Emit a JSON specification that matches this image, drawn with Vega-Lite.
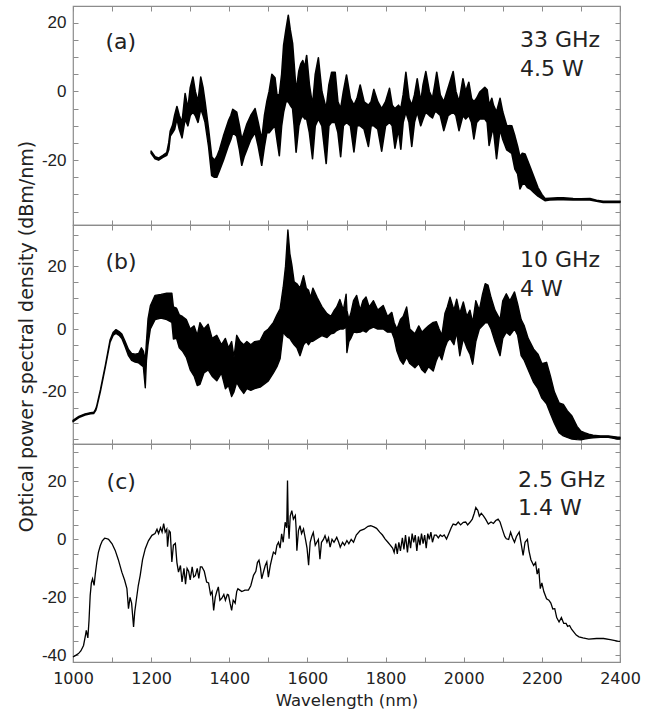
{
 "$schema": "https://vega.github.io/schema/vega-lite/v6.json",
 "padding": {"left": 16, "top": 4, "right": 5, "bottom": 5},
 "background": "white",
 "spacing": 0,
 "bounds": "flush",
 "config": {
  "view": {"stroke": "#8c8c8c", "strokeWidth": 1.2},
  "axis": {"grid": false, "domain": false, "tickColor": "#8c8c8c", "tickSize": 5, "tickWidth": 1, "offset": -5, "labelFlush": false, "labelColor": "#222", "titleColor": "#222"}
 },
 "datasets": {
  "a": [
   {"wl":1200,"lo":-18.0,"hi":-17.4},{"wl":1210,"lo":-19.6,"hi":-19.0},{"wl":1219,"lo":-20.0,"hi":-19.4},{"wl":1230,"lo":-19.2,"hi":-18.6},{"wl":1240,"lo":-18.6,"hi":-17.8},{"wl":1245,"lo":-17,"hi":-15},{"wl":1249,"lo":-13,"hi":-11.5},{"wl":1255,"lo":-12,"hi":-9.8},{"wl":1260,"lo":-11,"hi":-7},{"wl":1266,"lo":-8,"hi":-4.4},{"wl":1272,"lo":-11,"hi":-7},{"wl":1279,"lo":-13.5,"hi":-9},{"wl":1287,"lo":-8,"hi":-0.6},{"wl":1294,"lo":-10,"hi":-5},{"wl":1300,"lo":-7,"hi":1},{"wl":1307,"lo":-6,"hi":4.2},{"wl":1313,"lo":-7,"hi":0},{"wl":1320,"lo":-9,"hi":-3},{"wl":1327,"lo":-5,"hi":4.2},{"wl":1333,"lo":-7,"hi":1},{"wl":1338,"lo":-9,"hi":-3},{"wl":1347,"lo":-16,"hi":-11},{"wl":1355,"lo":-24.5,"hi":-19},{"wl":1362,"lo":-25,"hi":-20},{"wl":1368,"lo":-25,"hi":-19},{"wl":1375,"lo":-23,"hi":-17},{"wl":1385,"lo":-20,"hi":-13},{"wl":1398,"lo":-15.7,"hi":-8.5},{"wl":1404,"lo":-14,"hi":-7},{"wl":1409,"lo":-12,"hi":-5.2},{"wl":1419,"lo":-13,"hi":-6},{"wl":1426,"lo":-17,"hi":-10},{"wl":1432,"lo":-21.5,"hi":-14},{"wl":1438,"lo":-19,"hi":-12},{"wl":1445,"lo":-17,"hi":-9.5},{"wl":1455,"lo":-14,"hi":-7},{"wl":1466,"lo":-12,"hi":-5},{"wl":1474,"lo":-16,"hi":-9},{"wl":1483,"lo":-21.5,"hi":-14},{"wl":1490,"lo":-16,"hi":-7},{"wl":1496,"lo":-12,"hi":-3},{"wl":1502,"lo":-12,"hi":0},{"wl":1509,"lo":-11,"hi":5},{"wl":1517,"lo":-10,"hi":4},{"wl":1522,"lo":-14,"hi":-1},{"wl":1528,"lo":-18.7,"hi":-1},{"wl":1534,"lo":-10,"hi":5},{"wl":1539,"lo":-6,"hi":13.4},{"wl":1545,"lo":-3,"hi":18},{"wl":1551,"lo":-3,"hi":22.2},{"wl":1556,"lo":-4,"hi":18},{"wl":1562,"lo":-5,"hi":14},{"wl":1566,"lo":-10,"hi":8},{"wl":1571,"lo":-17.7,"hi":0},{"wl":1578,"lo":-10,"hi":6},{"wl":1583,"lo":-8,"hi":8},{"wl":1588,"lo":-7,"hi":9},{"wl":1593,"lo":-8,"hi":7},{"wl":1598,"lo":-8,"hi":10.5},{"wl":1605,"lo":-12,"hi":2},{"wl":1613,"lo":-19.6,"hi":-4},{"wl":1620,"lo":-10,"hi":5},{"wl":1628,"lo":-8,"hi":9.8},{"wl":1637,"lo":-10,"hi":0},{"wl":1648,"lo":-21,"hi":-5},{"wl":1655,"lo":-10,"hi":2},{"wl":1662,"lo":-9,"hi":5.6},{"wl":1671,"lo":-9,"hi":5.6},{"wl":1678,"lo":-12,"hi":-3},{"wl":1685,"lo":-19,"hi":-5},{"wl":1692,"lo":-10,"hi":0},{"wl":1700,"lo":-9,"hi":4.8},{"wl":1710,"lo":-10,"hi":-2},{"wl":1719,"lo":-17.6,"hi":-4},{"wl":1727,"lo":-10,"hi":-2},{"wl":1735,"lo":-10,"hi":1.9},{"wl":1745,"lo":-11,"hi":-3},{"wl":1756,"lo":-16,"hi":-4},{"wl":1763,"lo":-10,"hi":-3},{"wl":1770,"lo":-10,"hi":0.6},{"wl":1780,"lo":-11,"hi":-3},{"wl":1790,"lo":-17.4,"hi":-5},{"wl":1800,"lo":-10,"hi":-3},{"wl":1810,"lo":-9,"hi":0.9},{"wl":1817,"lo":-10,"hi":-4},{"wl":1824,"lo":-16.5,"hi":-5},{"wl":1833,"lo":-11,"hi":-4},{"wl":1839,"lo":-16.8,"hi":-5},{"wl":1845,"lo":-9,"hi":-1},{"wl":1852,"lo":-6,"hi":5.6},{"wl":1860,"lo":-9,"hi":-2},{"wl":1867,"lo":-16,"hi":-4},{"wl":1874,"lo":-9,"hi":-1},{"wl":1881,"lo":-6,"hi":3.7},{"wl":1890,"lo":-10,"hi":-3},{"wl":1896,"lo":-8,"hi":2},{"wl":1903,"lo":-6,"hi":5.8},{"wl":1912,"lo":-7,"hi":0},{"wl":1920,"lo":-7.7,"hi":-2},{"wl":1926,"lo":-6,"hi":2},{"wl":1931,"lo":-6,"hi":5.6},{"wl":1940,"lo":-7,"hi":-1},{"wl":1949,"lo":-11.4,"hi":-3},{"wl":1960,"lo":-7,"hi":1},{"wl":1973,"lo":-6,"hi":5.8},{"wl":1980,"lo":-7,"hi":0},{"wl":1988,"lo":-11.4,"hi":-3},{"wl":1998,"lo":-7,"hi":3.7},{"wl":2005,"lo":-8,"hi":0},{"wl":2013,"lo":-7,"hi":2.7},{"wl":2020,"lo":-9,"hi":-2},{"wl":2026,"lo":-13.8,"hi":-3},{"wl":2033,"lo":-9,"hi":-2},{"wl":2041,"lo":-8,"hi":-0.2},{"wl":2054,"lo":-8,"hi":1.2},{"wl":2060,"lo":-9,"hi":0.5},{"wl":2065,"lo":-15.7,"hi":-4},{"wl":2072,"lo":-12,"hi":-2},{"wl":2076,"lo":-11,"hi":-4},{"wl":2084,"lo":-19.6,"hi":-6},{"wl":2093,"lo":-11,"hi":-2},{"wl":2100,"lo":-14,"hi":-6},{"wl":2110,"lo":-17,"hi":-9.9},{"wl":2123,"lo":-18,"hi":-10},{"wl":2131,"lo":-22.6,"hi":-13},{"wl":2138,"lo":-24,"hi":-16},{"wl":2144,"lo":-28.4,"hi":-19},{"wl":2150,"lo":-27,"hi":-18},{"wl":2157,"lo":-27,"hi":-18.2},{"wl":2163,"lo":-28,"hi":-20},{"wl":2170,"lo":-28.4,"hi":-22},{"wl":2180,"lo":-29.5,"hi":-25},{"wl":2190,"lo":-30.5,"hi":-28},{"wl":2200,"lo":-31.2,"hi":-30},{"wl":2208,"lo":-31.8,"hi":-31.2},{"wl":2220,"lo":-31.6,"hi":-31.1},{"wl":2240,"lo":-31.5,"hi":-31.0},{"wl":2255,"lo":-31.5,"hi":-31.0},{"wl":2280,"lo":-31.6,"hi":-31.2},{"wl":2300,"lo":-31.6,"hi":-31.3},{"wl":2323,"lo":-31.6,"hi":-31.2},{"wl":2340,"lo":-32.0,"hi":-31.7},{"wl":2357,"lo":-32.3,"hi":-32.0},{"wl":2400,"lo":-32.3,"hi":-32.0}
  ],
  "b": [
   {"wl":1000,"lo":-29.5,"hi":-29.1},{"wl":1015,"lo":-28.2,"hi":-27.8},{"wl":1031,"lo":-27.4,"hi":-27.0},{"wl":1045,"lo":-27.0,"hi":-26.6},{"wl":1053,"lo":-26.9,"hi":-26.5},{"wl":1058,"lo":-26,"hi":-25.5},{"wl":1061,"lo":-24.8,"hi":-24.3},{"wl":1070,"lo":-20,"hi":-19.4},{"wl":1083,"lo":-12,"hi":-11.4},{"wl":1095,"lo":-4.2,"hi":-3.4},{"wl":1103,"lo":-2,"hi":-1.0},{"wl":1110,"lo":-1.4,"hi":-0.2},{"wl":1118,"lo":-2,"hi":-0.8},{"wl":1125,"lo":-3,"hi":-1.6},{"wl":1133,"lo":-5.5,"hi":-3.8},{"wl":1142,"lo":-8.5,"hi":-6.5},{"wl":1150,"lo":-10,"hi":-7.8},{"wl":1159,"lo":-10.5,"hi":-8},{"wl":1168,"lo":-10.8,"hi":-7.8},{"wl":1175,"lo":-11.5,"hi":-6},{"wl":1180,"lo":-12,"hi":-7},{"wl":1185,"lo":-18.7,"hi":-10},{"wl":1188,"lo":-10,"hi":-4},{"wl":1192,"lo":-5,"hi":3.2},{"wl":1198,"lo":0,"hi":7.4},{"wl":1210,"lo":3,"hi":10.7},{"wl":1225,"lo":3.5,"hi":11},{"wl":1240,"lo":3,"hi":11.4},{"wl":1253,"lo":2.1,"hi":11.4},{"wl":1257,"lo":-3.2,"hi":7},{"wl":1265,"lo":-3,"hi":6.6},{"wl":1272,"lo":-6,"hi":4.5},{"wl":1280,"lo":-7,"hi":4},{"wl":1290,"lo":-9,"hi":3},{"wl":1300,"lo":-13,"hi":0},{"wl":1310,"lo":-15,"hi":1},{"wl":1318,"lo":-18,"hi":-2},{"wl":1325,"lo":-17.6,"hi":2},{"wl":1335,"lo":-14,"hi":0},{"wl":1346,"lo":-13,"hi":1.5},{"wl":1356,"lo":-15,"hi":-3},{"wl":1368,"lo":-16.5,"hi":-2},{"wl":1380,"lo":-14,"hi":-5},{"wl":1390,"lo":-19,"hi":-3},{"wl":1398,"lo":-18,"hi":-6},{"wl":1406,"lo":-21.5,"hi":-4},{"wl":1412,"lo":-20,"hi":-9},{"wl":1419,"lo":-17,"hi":-2},{"wl":1428,"lo":-19,"hi":-4},{"wl":1437,"lo":-20.5,"hi":-5},{"wl":1445,"lo":-19,"hi":-4},{"wl":1455,"lo":-19.5,"hi":-5},{"wl":1465,"lo":-19,"hi":-4},{"wl":1479,"lo":-18.5,"hi":-3.7},{"wl":1490,"lo":-17.5,"hi":-1},{"wl":1500,"lo":-16.5,"hi":0},{"wl":1513,"lo":-14,"hi":2.1},{"wl":1522,"lo":-12,"hi":4.5},{"wl":1530,"lo":-9.5,"hi":6.4},{"wl":1538,"lo":-1,"hi":13.3},{"wl":1544,"lo":-2,"hi":20},{"wl":1550,"lo":-2.7,"hi":31.5},{"wl":1555,"lo":-3,"hi":24},{"wl":1560,"lo":-4,"hi":20.5},{"wl":1566,"lo":-5,"hi":15},{"wl":1573,"lo":-6,"hi":14.4},{"wl":1581,"lo":-8.5,"hi":13},{"wl":1590,"lo":-5,"hi":17},{"wl":1597,"lo":-4,"hi":13},{"wl":1603,"lo":-5,"hi":12.3},{"wl":1608,"lo":-4,"hi":10},{"wl":1614,"lo":-3.9,"hi":13},{"wl":1625,"lo":-3,"hi":10},{"wl":1637,"lo":-2.1,"hi":7.1},{"wl":1650,"lo":-2.7,"hi":4.9},{"wl":1660,"lo":-1.5,"hi":4},{"wl":1668,"lo":-1.3,"hi":5.8},{"wl":1675,"lo":-0.5,"hi":7},{"wl":1683,"lo":0,"hi":9.4},{"wl":1692,"lo":0,"hi":6},{"wl":1699,"lo":0.6,"hi":11.1},{"wl":1701,"lo":-7.5,"hi":6},{"wl":1706,"lo":-4,"hi":3},{"wl":1711,"lo":-3,"hi":5},{"wl":1718,"lo":-1,"hi":9},{"wl":1726,"lo":-1.1,"hi":10.7},{"wl":1735,"lo":-1,"hi":6},{"wl":1742,"lo":-0.5,"hi":9},{"wl":1750,"lo":-1,"hi":10.2},{"wl":1758,"lo":0,"hi":7},{"wl":1769,"lo":0.6,"hi":9},{"wl":1780,"lo":0,"hi":6},{"wl":1794,"lo":0,"hi":7.5},{"wl":1805,"lo":-1,"hi":4},{"wl":1816,"lo":-1,"hi":5.3},{"wl":1822,"lo":-3,"hi":2},{"wl":1829,"lo":-7,"hi":0},{"wl":1838,"lo":-10,"hi":3},{"wl":1845,"lo":-11.2,"hi":4},{"wl":1854,"lo":-9,"hi":7},{"wl":1862,"lo":-11,"hi":0},{"wl":1875,"lo":-12.3,"hi":-1.5},{"wl":1885,"lo":-11,"hi":1},{"wl":1893,"lo":-13,"hi":-1},{"wl":1901,"lo":-13.9,"hi":0},{"wl":1910,"lo":-12,"hi":1},{"wl":1922,"lo":-13.4,"hi":2.1},{"wl":1930,"lo":-10,"hi":2.3},{"wl":1937,"lo":-8,"hi":0},{"wl":1944,"lo":-9.8,"hi":-2},{"wl":1952,"lo":-6,"hi":5},{"wl":1958,"lo":-4,"hi":7},{"wl":1965,"lo":-3,"hi":10.1},{"wl":1975,"lo":-5,"hi":6},{"wl":1982,"lo":-1,"hi":9.5},{"wl":1990,"lo":-8.5,"hi":5},{"wl":1999,"lo":-3,"hi":8.6},{"wl":2008,"lo":-6,"hi":4},{"wl":2016,"lo":-8,"hi":6},{"wl":2023,"lo":-11.2,"hi":2},{"wl":2031,"lo":-4,"hi":9},{"wl":2040,"lo":0,"hi":6},{"wl":2048,"lo":1,"hi":11},{"wl":2055,"lo":2,"hi":14.4},{"wl":2062,"lo":2,"hi":14},{"wl":2070,"lo":0,"hi":10},{"wl":2080,"lo":-4,"hi":6},{"wl":2093,"lo":-8.5,"hi":3},{"wl":2100,"lo":-3,"hi":9},{"wl":2109,"lo":-1,"hi":11.2},{"wl":2118,"lo":-2,"hi":9},{"wl":2130,"lo":0,"hi":11.8},{"wl":2138,"lo":-2,"hi":8},{"wl":2147,"lo":-8.5,"hi":3},{"wl":2155,"lo":-10,"hi":1},{"wl":2165,"lo":-13,"hi":-3},{"wl":2179,"lo":-17,"hi":-6.4},{"wl":2190,"lo":-19,"hi":-8},{"wl":2200,"lo":-22,"hi":-11},{"wl":2212,"lo":-23.8,"hi":-10.6},{"wl":2222,"lo":-27,"hi":-15},{"wl":2232,"lo":-30,"hi":-20},{"wl":2244,"lo":-33,"hi":-23.5},{"wl":2255,"lo":-34,"hi":-24},{"wl":2265,"lo":-34.5,"hi":-26},{"wl":2277,"lo":-35,"hi":-27.7},{"wl":2290,"lo":-35.2,"hi":-31},{"wl":2300,"lo":-35.3,"hi":-32.5},{"wl":2309,"lo":-35,"hi":-33},{"wl":2320,"lo":-34.8,"hi":-33.5},{"wl":2331,"lo":-34.6,"hi":-33.8},{"wl":2350,"lo":-34.5,"hi":-34},{"wl":2370,"lo":-34.5,"hi":-34},{"wl":2394,"lo":-35,"hi":-34.4},{"wl":2400,"lo":-35,"hi":-34.4}
  ],
  "c": [
   {"wl":1000,"v":-40.6},{"wl":1007,"v":-40.0},{"wl":1014,"v":-39.4},{"wl":1020,"v":-38.5},{"wl":1027,"v":-36.6},{"wl":1032,"v":-33},{"wl":1034,"v":-31.4},{"wl":1038,"v":-34},{"wl":1041,"v":-28},{"wl":1044,"v":-19.3},{"wl":1047,"v":-15},{"wl":1050,"v":-13.6},{"wl":1054,"v":-15.9},{"wl":1057,"v":-12},{"wl":1061,"v":-7.8},{"wl":1065,"v":-4.5},{"wl":1070,"v":-2.1},{"wl":1075,"v":-0.5},{"wl":1081,"v":0.4},{"wl":1086,"v":0.3},{"wl":1091,"v":0},{"wl":1100,"v":-1.5},{"wl":1108,"v":-3.8},{"wl":1116,"v":-7},{"wl":1125,"v":-11.3},{"wl":1132,"v":-14},{"wl":1138,"v":-17},{"wl":1142,"v":-23.9},{"wl":1146,"v":-20},{"wl":1150,"v":-22},{"wl":1155,"v":-30.2},{"wl":1158,"v":-25},{"wl":1162,"v":-21},{"wl":1167,"v":-16},{"wl":1172,"v":-12.4},{"wl":1178,"v":-7},{"wl":1185,"v":-3.2},{"wl":1193,"v":-0.5},{"wl":1202,"v":1.4},{"wl":1210,"v":2},{"wl":1215,"v":3.5},{"wl":1219,"v":2},{"wl":1224,"v":4},{"wl":1228,"v":2.5},{"wl":1232,"v":5.4},{"wl":1236,"v":2.5},{"wl":1240,"v":3.5},{"wl":1242,"v":-2.5},{"wl":1246,"v":3},{"wl":1249,"v":2.5},{"wl":1253,"v":-7.8},{"wl":1257,"v":-2},{"wl":1262,"v":-1.4},{"wl":1266,"v":-8},{"wl":1270,"v":-11.3},{"wl":1275,"v":-9},{"wl":1279,"v":-14.7},{"wl":1284,"v":-10},{"wl":1288,"v":-15.5},{"wl":1292,"v":-10},{"wl":1296,"v":-11},{"wl":1300,"v":-14},{"wl":1305,"v":-9.5},{"wl":1309,"v":-13},{"wl":1313,"v":-12.5},{"wl":1318,"v":-10},{"wl":1322,"v":-13.5},{"wl":1326,"v":-9.5},{"wl":1330,"v":-9.5},{"wl":1336,"v":-11},{"wl":1342,"v":-14.7},{"wl":1347,"v":-15},{"wl":1352,"v":-19},{"wl":1356,"v":-18},{"wl":1360,"v":-24.5},{"wl":1364,"v":-20},{"wl":1368,"v":-18},{"wl":1372,"v":-16.4},{"wl":1376,"v":-21},{"wl":1381,"v":-20.3},{"wl":1386,"v":-19},{"wl":1390,"v":-21},{"wl":1395,"v":-19},{"wl":1398,"v":-19.2},{"wl":1402,"v":-22},{"wl":1406,"v":-24.5},{"wl":1410,"v":-21},{"wl":1415,"v":-22},{"wl":1419,"v":-18},{"wl":1422,"v":-17},{"wl":1427,"v":-17.5},{"wl":1432,"v":-18},{"wl":1440,"v":-17.5},{"wl":1449,"v":-17.5},{"wl":1455,"v":-16},{"wl":1462,"v":-12.4},{"wl":1468,"v":-11},{"wl":1472,"v":-8},{"wl":1476,"v":-7.2},{"wl":1480,"v":-10},{"wl":1483,"v":-13.6},{"wl":1488,"v":-11},{"wl":1492,"v":-9},{"wl":1496,"v":-7.8},{"wl":1500,"v":-13},{"wl":1505,"v":-9},{"wl":1510,"v":-6},{"wl":1513,"v":-4.4},{"wl":1518,"v":-5},{"wl":1522,"v":-2},{"wl":1526,"v":-1},{"wl":1530,"v":-3},{"wl":1534,"v":1.9},{"wl":1538,"v":-1},{"wl":1543,"v":5.9},{"wl":1547,"v":4},{"wl":1549,"v":20.3},{"wl":1551,"v":5},{"wl":1553,"v":0.2},{"wl":1556,"v":8},{"wl":1560,"v":9.9},{"wl":1564,"v":7},{"wl":1569,"v":8.2},{"wl":1571,"v":4},{"wl":1573,"v":-3.9},{"wl":1577,"v":3},{"wl":1581,"v":4.7},{"wl":1585,"v":2},{"wl":1590,"v":3.6},{"wl":1595,"v":0},{"wl":1599,"v":-3},{"wl":1603,"v":-8.9},{"wl":1607,"v":-1},{"wl":1611,"v":1},{"wl":1615,"v":2.4},{"wl":1620,"v":-2},{"wl":1624,"v":-1},{"wl":1628,"v":0},{"wl":1632,"v":-6.8},{"wl":1636,"v":-1},{"wl":1641,"v":0},{"wl":1645,"v":1.3},{"wl":1650,"v":-1},{"wl":1654,"v":0.5},{"wl":1658,"v":-2.7},{"wl":1663,"v":0},{"wl":1668,"v":-1},{"wl":1675,"v":0.7},{"wl":1680,"v":-1},{"wl":1684,"v":-2.7},{"wl":1690,"v":-1},{"wl":1695,"v":-2},{"wl":1701,"v":-0.4},{"wl":1706,"v":-1.5},{"wl":1712,"v":0},{"wl":1718,"v":-1},{"wl":1725,"v":1.5},{"wl":1735,"v":3},{"wl":1745,"v":3.5},{"wl":1755,"v":4.5},{"wl":1762,"v":4.7},{"wl":1770,"v":4.3},{"wl":1777,"v":3.8},{"wl":1785,"v":2.5},{"wl":1792,"v":1.5},{"wl":1799,"v":0.1},{"wl":1806,"v":-1},{"wl":1812,"v":-2},{"wl":1818,"v":-3},{"wl":1822,"v":-4.5},{"wl":1826,"v":-1.5},{"wl":1830,"v":-5},{"wl":1834,"v":-1},{"wl":1838,"v":-4},{"wl":1843,"v":0.5},{"wl":1847,"v":-3.5},{"wl":1851,"v":1.5},{"wl":1856,"v":-4.5},{"wl":1860,"v":1},{"wl":1864,"v":-3},{"wl":1868,"v":2},{"wl":1872,"v":-1},{"wl":1876,"v":1.5},{"wl":1880,"v":-4},{"wl":1884,"v":1},{"wl":1888,"v":-2},{"wl":1892,"v":2},{"wl":1896,"v":-1.5},{"wl":1900,"v":1.5},{"wl":1904,"v":-3},{"wl":1908,"v":2},{"wl":1912,"v":0},{"wl":1916,"v":2.5},{"wl":1920,"v":-1},{"wl":1925,"v":1.5},{"wl":1930,"v":1.5},{"wl":1935,"v":0.5},{"wl":1940,"v":1.5},{"wl":1945,"v":1},{"wl":1950,"v":1.5},{"wl":1956,"v":0.1},{"wl":1962,"v":2},{"wl":1968,"v":4},{"wl":1973,"v":5.3},{"wl":1980,"v":5},{"wl":1986,"v":6},{"wl":1992,"v":5},{"wl":1999,"v":5.9},{"wl":2005,"v":6},{"wl":2010,"v":5},{"wl":2016,"v":5.9},{"wl":2022,"v":7},{"wl":2027,"v":9},{"wl":2031,"v":11},{"wl":2036,"v":10},{"wl":2040,"v":8},{"wl":2045,"v":9},{"wl":2050,"v":8.2},{"wl":2056,"v":7},{"wl":2063,"v":5.3},{"wl":2070,"v":6},{"wl":2076,"v":5.5},{"wl":2082,"v":6.5},{"wl":2088,"v":7},{"wl":2093,"v":6},{"wl":2100,"v":3},{"wl":2105,"v":1},{"wl":2109,"v":0.2},{"wl":2115,"v":0},{"wl":2120,"v":2.5},{"wl":2125,"v":0.5},{"wl":2130,"v":-1},{"wl":2135,"v":1},{"wl":2142,"v":2.5},{"wl":2147,"v":-1.5},{"wl":2152,"v":-5.5},{"wl":2157,"v":-1},{"wl":2163,"v":0},{"wl":2167,"v":-4},{"wl":2172,"v":-7},{"wl":2179,"v":-9},{"wl":2184,"v":-8},{"wl":2188,"v":-12},{"wl":2192,"v":-10},{"wl":2196,"v":-17},{"wl":2200,"v":-15},{"wl":2205,"v":-18},{"wl":2212,"v":-20.5},{"wl":2218,"v":-21},{"wl":2223,"v":-22},{"wl":2228,"v":-24},{"wl":2233,"v":-23.9},{"wl":2238,"v":-27},{"wl":2244,"v":-28.5},{"wl":2250,"v":-27},{"wl":2256,"v":-29},{"wl":2262,"v":-29},{"wl":2266,"v":-30},{"wl":2271,"v":-29.7},{"wl":2276,"v":-31},{"wl":2282,"v":-32},{"wl":2288,"v":-33},{"wl":2295,"v":-33.6},{"wl":2305,"v":-34},{"wl":2320,"v":-34.4},{"wl":2340,"v":-34.2},{"wl":2358,"v":-34.2},{"wl":2375,"v":-34.6},{"wl":2394,"v":-35.1},{"wl":2400,"v":-35.2}
  ],
  "lab": [
   {"panel":"a","wl":1083,"v":12.5,"t":"(a)"},
   {"panel":"a","wl":2144,"v":12.9,"t":"33 GHz"},
   {"panel":"a","wl":2144,"v":4.5,"t":"4.5 W"},
   {"panel":"b","wl":1083,"v":19.0,"t":"(b)"},
   {"panel":"b","wl":2144,"v":19.7,"t":"10 GHz"},
   {"panel":"b","wl":2144,"v":10.5,"t":"4 W"},
   {"panel":"c","wl":1086,"v":17.4,"t":"(c)"},
   {"panel":"c","wl":2139,"v":18.0,"t":"2.5 GHz"},
   {"panel":"c","wl":2139,"v":8.4,"t":"1.4 W"}
  ]
 },
 "vconcat": [
  {
   "width": 547, "height": 219,
   "data": {"name": "a"},
   "layer": [
    {"mark": {"type": "area", "color": "black", "stroke": "black", "strokeWidth": 1.6, "strokeJoin": "round"},
     "encoding": {
      "x": {"field": "wl", "type": "quantitative", "scale": {"domain": [1000, 2400], "nice": false}, "axis": {"orient": "bottom", "values": [1000,1100,1200,1300,1400,1500,1600,1700,1800,1900,2000,2100,2200,2300,2400], "labels": false, "title": null}},
      "y": {"field": "lo", "type": "quantitative", "scale": {"domain": [-38.9, 24.9], "nice": false, "zero": false}, "axis": {"orient": "left", "values": [-35,-30,-25,-20,-15,-10,-5,0,5,10,15,20], "labelExpr": "datum.value % 20 === 0 ? '' + datum.value : ''", "title": null, "labelFont": "Liberation Sans Narrow, Liberation Sans, sans-serif", "labelFontSize": 17, "labelPadding": 7}},
      "y2": {"field": "hi"}
     }},
    {"mark": {"type": "point", "opacity": 0},
     "encoding": {
      "x": {"field": "wl", "type": "quantitative", "axis": {"orient": "top", "values": [1000,1100,1200,1300,1400,1500,1600,1700,1800,1900,2000,2100,2200,2300,2400], "labels": false, "title": null}},
      "y": {"field": "lo", "type": "quantitative", "axis": {"orient": "right", "values": [-35,-30,-25,-20,-15,-10,-5,0,5,10,15,20], "labels": false, "title": null}}
     }},
    {"data": {"name": "lab"}, "transform": [{"filter": "datum.panel === 'a'"}],
     "mark": {"type": "text", "align": "left", "baseline": "alphabetic", "font": "DejaVu Sans", "fontSize": 22, "color": "#222"},
     "encoding": {"x": {"field": "wl", "type": "quantitative", "axis": null}, "y": {"field": "v", "type": "quantitative", "axis": null}, "text": {"field": "t"}}}
   ]
  },
  {
   "width": 547, "height": 219,
   "data": {"name": "b"},
   "layer": [
    {"mark": {"type": "area", "color": "black", "stroke": "black", "strokeWidth": 1.4, "strokeJoin": "round"},
     "encoding": {
      "x": {"field": "wl", "type": "quantitative", "scale": {"domain": [1000, 2400], "nice": false}, "axis": {"orient": "bottom", "values": [1000,1100,1200,1300,1400,1500,1600,1700,1800,1900,2000,2100,2200,2300,2400], "labels": false, "title": null}},
      "y": {"field": "lo", "type": "quantitative", "scale": {"domain": [-36.6, 33.1], "nice": false, "zero": false}, "axis": {"orient": "left", "values": [-35,-30,-25,-20,-15,-10,-5,0,5,10,15,20,25,30], "labelExpr": "datum.value % 20 === 0 ? '' + datum.value : ''", "title": "Optical power spectral density (dBm/nm)", "titleFont": "DejaVu Sans", "titleFontSize": 19, "titleFontWeight": "normal", "titleX": -52, "titleY": 111, "titleAngle": 270, "titleAlign": "center", "titleBaseline": "middle", "labelFont": "Liberation Sans Narrow, Liberation Sans, sans-serif", "labelFontSize": 17, "labelPadding": 7}},
      "y2": {"field": "hi"}
     }},
    {"mark": {"type": "point", "opacity": 0},
     "encoding": {
      "x": {"field": "wl", "type": "quantitative", "axis": {"orient": "top", "values": [1000,1100,1200,1300,1400,1500,1600,1700,1800,1900,2000,2100,2200,2300,2400], "labels": false, "title": null}},
      "y": {"field": "lo", "type": "quantitative", "axis": {"orient": "right", "values": [-35,-30,-25,-20,-15,-10,-5,0,5,10,15,20,25,30], "labels": false, "title": null}}
     }},
    {"data": {"name": "lab"}, "transform": [{"filter": "datum.panel === 'b'"}],
     "mark": {"type": "text", "align": "left", "baseline": "alphabetic", "font": "DejaVu Sans", "fontSize": 22, "color": "#222"},
     "encoding": {"x": {"field": "wl", "type": "quantitative", "axis": null}, "y": {"field": "v", "type": "quantitative", "axis": null}, "text": {"field": "t"}}}
   ]
  },
  {
   "width": 547, "height": 218,
   "data": {"name": "c"},
   "layer": [
    {"mark": {"type": "line", "color": "black", "strokeWidth": 1.3},
     "encoding": {
      "x": {"field": "wl", "type": "quantitative", "scale": {"domain": [1000, 2400], "nice": false}, "axis": {"orient": "bottom", "values": [1000,1100,1200,1300,1400,1500,1600,1700,1800,1900,2000,2100,2200,2300,2400], "labelExpr": "datum.value % 200 === 0 ? '' + datum.value : ''", "labelFont": "DejaVu Sans", "labelFontSize": 16, "labelPadding": 8, "title": "Wavelength (nm)", "titleFont": "DejaVu Sans", "titleFontSize": 16.5, "titleFontWeight": "normal", "titlePadding": 6}},
      "y": {"field": "v", "type": "quantitative", "scale": {"domain": [-42.3, 32.9], "nice": false, "zero": false}, "axis": {"orient": "left", "values": [-40,-35,-30,-25,-20,-15,-10,-5,0,5,10,15,20,25,30], "labelExpr": "datum.value % 20 === 0 ? '' + datum.value : ''", "title": null, "labelFont": "Liberation Sans Narrow, Liberation Sans, sans-serif", "labelFontSize": 17, "labelPadding": 7}}
     }},
    {"mark": {"type": "point", "opacity": 0},
     "encoding": {
      "x": {"field": "wl", "type": "quantitative", "axis": {"orient": "top", "values": [1000,1100,1200,1300,1400,1500,1600,1700,1800,1900,2000,2100,2200,2300,2400], "labels": false, "title": null}},
      "y": {"field": "v", "type": "quantitative", "axis": {"orient": "right", "values": [-40,-35,-30,-25,-20,-15,-10,-5,0,5,10,15,20,25,30], "labels": false, "title": null}}
     }},
    {"data": {"name": "lab"}, "transform": [{"filter": "datum.panel === 'c'"}],
     "mark": {"type": "text", "align": "left", "baseline": "alphabetic", "font": "DejaVu Sans", "fontSize": 22, "color": "#222"},
     "encoding": {"x": {"field": "wl", "type": "quantitative", "axis": null}, "y": {"field": "v", "type": "quantitative", "axis": null}, "text": {"field": "t"}}}
   ]
  }
 ]
}
